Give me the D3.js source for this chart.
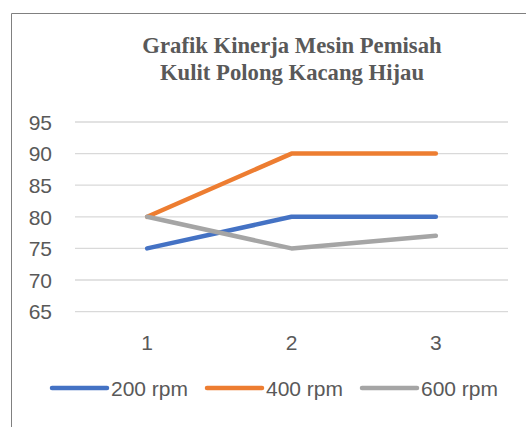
<!DOCTYPE html>
<html><head><meta charset="utf-8">
<script src="https://cdn.jsdelivr.net/npm/d3@7"></script>
<style>html,body{margin:0;padding:0;background:#fff;}</style>
</head><body>
<script>
const categories = ["1", "2", "3"];
const seriesNames = ["200 rpm", "400 rpm", "600 rpm"];
const s200 = [75, 80, 80];
const s400 = [80, 90, 90];
const s600 = [80, 75, 77];
const yTicks = [65, 70, 75, 80, 85, 90, 95];
const colors = ["#4472C4", "#ED7D31", "#A5A5A5"];
const series = [s200, s400, s600];

const W = 526, H = 427;
const svg = d3.select("body").append("svg").attr("width", W).attr("height", H);

// chart border (only top and left visible)
svg.append("path").attr("d", "M11.5,427 V13.5 H526").attr("fill", "none").attr("stroke", "#808080").attr("stroke-width", 1);

// title
const title = svg.append("text").attr("text-anchor", "middle")
  .attr("font-family", "'Liberation Serif', 'Times New Roman', serif")
  .attr("font-weight", "bold").attr("font-size", 22.7).attr("fill", "#595959");
title.append("tspan").attr("x", 292).attr("y", 53).text("Grafik Kinerja Mesin Pemisah");
title.append("tspan").attr("x", 292).attr("y", 80).text("Kulit Polong Kacang Hijau");

const x = d3.scaleBand().domain(categories).range([75, 508]);
const y = d3.scaleLinear().domain([65, 95]).range([311.6, 122]);

// gridlines
svg.append("g").selectAll("line").data(yTicks).join("line")
  .attr("x1", 75).attr("x2", 508)
  .attr("y1", d => y(d)).attr("y2", d => y(d))
  .attr("stroke", "#D9D9D9").attr("stroke-width", 1.3);

const font = "'Liberation Sans', Arial, sans-serif";
// y axis labels
const yAxis = d3.axisLeft(y).tickValues(yTicks).tickSize(0).tickPadding(0);
const gy = svg.append("g").attr("transform", "translate(52,0)").call(yAxis);
gy.select(".domain").remove();
gy.selectAll("text").attr("font-family", font).attr("font-size", 21).attr("fill", "#595959").attr("dy", "0.35em");

// x axis labels
const xAxis = d3.axisBottom(x).tickSize(0).tickPadding(0);
const gx = svg.append("g").attr("transform", "translate(0,335)").call(xAxis);
gx.select(".domain").remove();
gx.selectAll("text").attr("font-family", font).attr("font-size", 21).attr("fill", "#595959").attr("dy", "0.71em").attr("y", 0);

// lines
const line = d3.line().x((d, i) => x(categories[i]) + x.bandwidth() / 2).y(d => y(d));
series.forEach((s, k) => {
  svg.append("path").datum(s).attr("d", line)
    .attr("fill", "none").attr("stroke", colors[k]).attr("stroke-width", 4.5)
    .attr("stroke-linecap", "round").attr("stroke-linejoin", "round");
});

// legend
const legX = [52, 207, 362];
const leg = svg.append("g");
seriesNames.forEach((n, k) => {
  leg.append("line").attr("x1", legX[k]).attr("x2", legX[k] + 55)
    .attr("y1", 388).attr("y2", 388).attr("stroke", colors[k]).attr("stroke-width", 4.5)
    .attr("stroke-linecap", "round");
  leg.append("text").attr("x", legX[k] + 59).attr("y", 395.5)
    .attr("font-family", font).attr("font-size", 21).attr("fill", "#595959").text(n);
});
</script>
</body></html>
